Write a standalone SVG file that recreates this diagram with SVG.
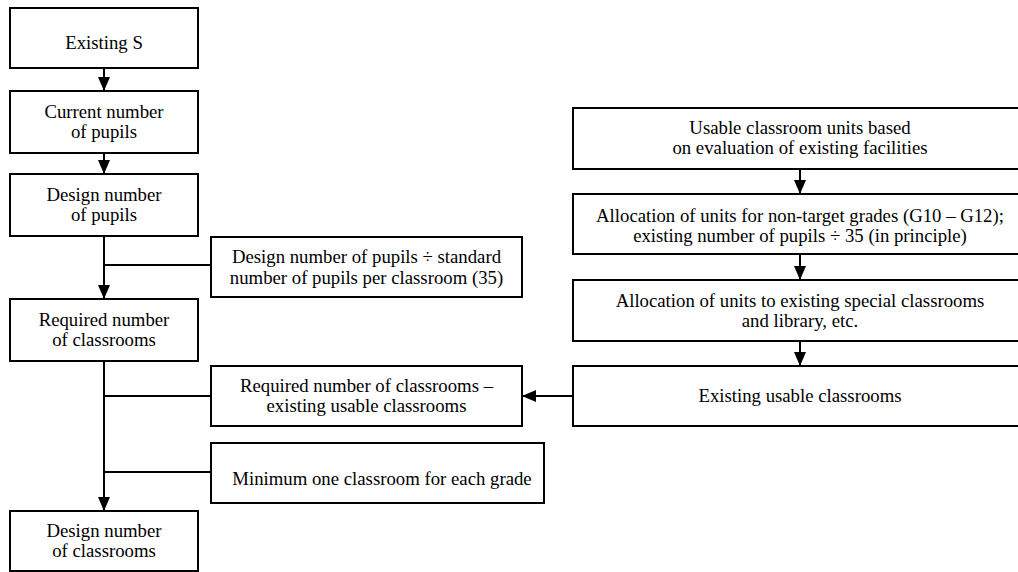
<svg xmlns="http://www.w3.org/2000/svg" width="1018" height="572" viewBox="0 0 1018 572" font-family="Liberation Serif, Times New Roman, DejaVu Serif, serif">
<style>
.box{fill:#fff;stroke:#000;stroke-width:2}
.ln{fill:none;stroke:#000;stroke-width:2}
.t{font-family:"Liberation Serif","Times New Roman",serif;font-size:18.75px;fill:#000;text-anchor:middle}
</style>
<defs>
<marker id="ah" markerWidth="14" markerHeight="12" viewBox="0 0 14 12" refX="14" refY="6" orient="auto" markerUnits="userSpaceOnUse">
<path d="M0,0 L14,6 L0,12 Z" fill="#000"/>
</marker>
</defs>
<g id="connectors">
<line class="ln" x1="104" y1="68" x2="104" y2="91" marker-end="url(#ah)"/>
<line class="ln" x1="104" y1="153" x2="104" y2="174" marker-end="url(#ah)"/>
<line class="ln" x1="104" y1="236" x2="104" y2="299" marker-end="url(#ah)"/>
<line class="ln" x1="104" y1="265" x2="211" y2="265"/>
<line class="ln" x1="104" y1="361" x2="104" y2="511" marker-end="url(#ah)"/>
<line class="ln" x1="104" y1="396" x2="211" y2="396"/>
<line class="ln" x1="104" y1="472" x2="211" y2="472"/>
<line class="ln" x1="800" y1="169" x2="800" y2="194" marker-end="url(#ah)"/>
<line class="ln" x1="800" y1="254" x2="800" y2="280" marker-end="url(#ah)"/>
<line class="ln" x1="800" y1="341" x2="800" y2="366" marker-end="url(#ah)"/>
<line class="ln" x1="573" y1="396" x2="522" y2="396" marker-end="url(#ah)"/>
</g>
<g id="n1"><rect class="box" x="10" y="8" width="188" height="60"/><text class="t" x="104" y="49">Existing S</text></g>
<g id="n2"><rect class="box" x="10" y="91" width="188" height="62"/><text class="t" x="104" y="118">Current number</text><text class="t" x="104" y="138">of pupils</text></g>
<g id="n3"><rect class="box" x="10" y="174" width="188" height="62"/><text class="t" x="104" y="201">Design number</text><text class="t" x="104" y="221">of pupils</text></g>
<g id="n4"><rect class="box" x="10" y="299" width="188" height="62"/><text class="t" x="104" y="326">Required number</text><text class="t" x="104" y="346">of classrooms</text></g>
<g id="n5"><rect class="box" x="10" y="511" width="188" height="60"/><text class="t" x="104" y="537">Design number</text><text class="t" x="104" y="557">of classrooms</text></g>
<g id="s1"><rect class="box" x="211" y="237" width="311" height="60"/><text class="t" x="366.5" y="263">Design number of pupils ÷ standard</text><text class="t" x="366.5" y="284">number of pupils per classroom (35)</text></g>
<g id="s2"><rect class="box" x="211" y="366" width="311" height="60"/><text class="t" x="366.5" y="392">Required number of classrooms –</text><text class="t" x="366.5" y="412">existing usable classrooms</text></g>
<g id="s3"><rect class="box" x="211" y="443" width="333" height="60"/><text class="t" x="382" y="485">Minimum one classroom for each grade</text></g>
<g id="r1"><rect class="box" x="573" y="108" width="454" height="61"/><text class="t" x="800" y="134">Usable classroom units based</text><text class="t" x="800" y="154">on evaluation of existing facilities</text></g>
<g id="r2"><rect class="box" x="573" y="194" width="454" height="60"/><text class="t" x="800" y="222">Allocation of units for non-target grades (G10 – G12);</text><text class="t" x="800" y="242">existing number of pupils ÷ 35 (in principle)</text></g>
<g id="r3"><rect class="box" x="573" y="280" width="454" height="61"/><text class="t" x="800" y="307">Allocation of units to existing special classrooms</text><text class="t" x="800" y="327">and library, etc.</text></g>
<g id="r4"><rect class="box" x="573" y="366" width="454" height="60"/><text class="t" x="800" y="402">Existing usable classrooms</text></g>
</svg>
